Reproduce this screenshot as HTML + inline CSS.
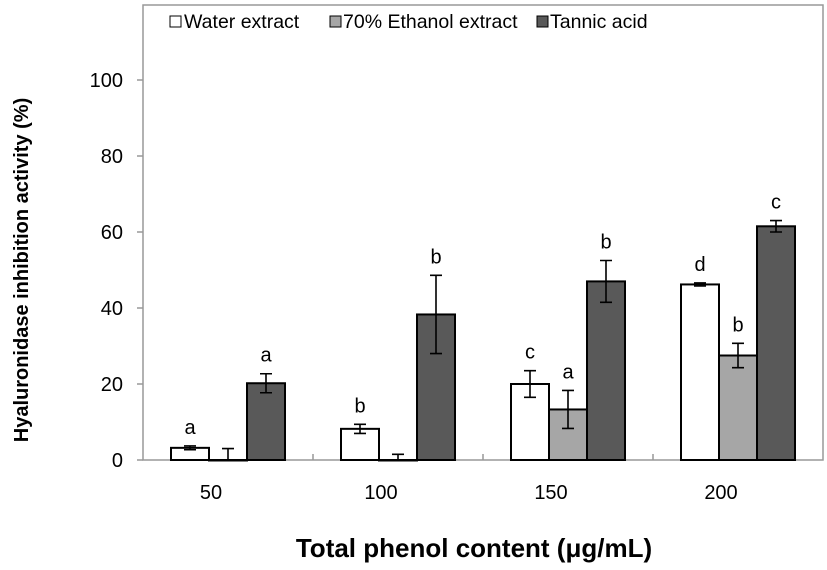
<!DOCTYPE html>
<html><head><meta charset="utf-8"><style>
body{margin:0;background:#fff;font-family:"Liberation Sans",Arial,sans-serif}
</style></head><body>
<svg id="c" width="827" height="565" xmlns="http://www.w3.org/2000/svg" font-family="Liberation Sans, Arial, sans-serif">
<rect x="143" y="5" width="680" height="455" fill="none" stroke="#999" stroke-width="1.5"/>
<g id="g"></g>
<text x="0" y="0" transform="translate(28,270) rotate(-90)" text-anchor="middle" font-size="20" font-weight="bold">Hyaluronidase inhibition activity (%)</text>
<text x="474" y="557" text-anchor="middle" font-size="26" font-weight="bold">Total phenol content (μg/mL)</text>
<g font-size="19.5">
<rect x="170" y="16" width="11" height="11" fill="#fff" stroke="#000"/>
<text x="184" y="28">Water extract</text>
<rect x="330" y="16" width="11" height="11" fill="#a6a6a6" stroke="#000"/>
<text x="343" y="28">70% Ethanol extract</text>
<rect x="537" y="16" width="11" height="11" fill="#595959" stroke="#000"/>
<text x="550" y="28">Tannic acid</text>
</g>
</svg>
<script>
const categories=["50","100","150","200"];
const water=[3.2,8.2,20,46.2];
const ethanol=[0,0,13.3,27.5];
const tannic=[20.2,38.3,47,61.5];
const waterErr=[0.5,1.2,3.5,0.4];
const ethanolErr=[3,1.5,5,3.2];
const tannicErr=[2.5,10.3,5.5,1.5];
const waterLetters=["a","b","c","d"];
const ethanolLetters=["","","a","b"];
const tannicLetters=["a","b","b","c"];
const yTicks=[0,20,40,60,80,100];
const NS="http://www.w3.org/2000/svg";
const g=document.getElementById("g");
const X0=143,CW=170,Y0=460,K=3.8,BW=38;
const y=v=>Y0-v*K;
function mk(t,a){const e=document.createElementNS(NS,t);for(const k in a)e.setAttribute(k,a[k]);g.appendChild(e);return e;}
yTicks.forEach(v=>{
 const l=mk("line",{x1:X0-6,x2:X0,y1:y(v),y2:y(v),stroke:"#999","stroke-width":1.5});
 
 
 const t=mk("text",{x:X0-20,y:y(v)+7,"text-anchor":"end","font-size":20});
 t.textContent=v;
 
 
});
categories.forEach((c,i)=>{
 if(i>0){const l=mk("line",{x1:X0+i*CW,x2:X0+i*CW,y1:Y0,y2:Y0-6,stroke:"#999","stroke-width":1.5});
 
 }
 const t=mk("text",{x:X0+i*CW+CW/2-17,y:499,"text-anchor":"middle","font-size":20});
 t.textContent=c;
 
 
});
const series=[[water,waterErr,waterLetters,"#fff","water"],[ethanol,ethanolErr,ethanolLetters,"#a6a6a6","ethanol"],[tannic,tannicErr,tannicLetters,"#595959","tannic"]];
series.forEach(([vals,errs,lets,col,nm],s)=>{
 vals.forEach((v,i)=>{
  const bx=X0+i*CW+CW/2-1.5*BW+s*BW;
  const r=mk("rect",{x:bx,y:y(v),width:BW,height:Math.max(v*K,0.5),fill:col,stroke:"#000","stroke-width":2});
  
  
  const cx=bx+BW/2,top=y(v+errs[i]),bot=Math.min(y(v-errs[i]),Y0);
  const e=mk("path",{d:`M${cx},${top}V${bot}M${cx-6},${top}H${cx+6}`+(bot<Y0?`M${cx-6},${bot}H${cx+6}`:""),stroke:"#000","stroke-width":1.6,fill:"none"});
  
  
  if(lets[i]){const t=mk("text",{x:cx,y:top-12,"text-anchor":"middle","font-size":20});
  t.textContent=lets[i];
  
  }
 });
});
</script>
</body></html>
